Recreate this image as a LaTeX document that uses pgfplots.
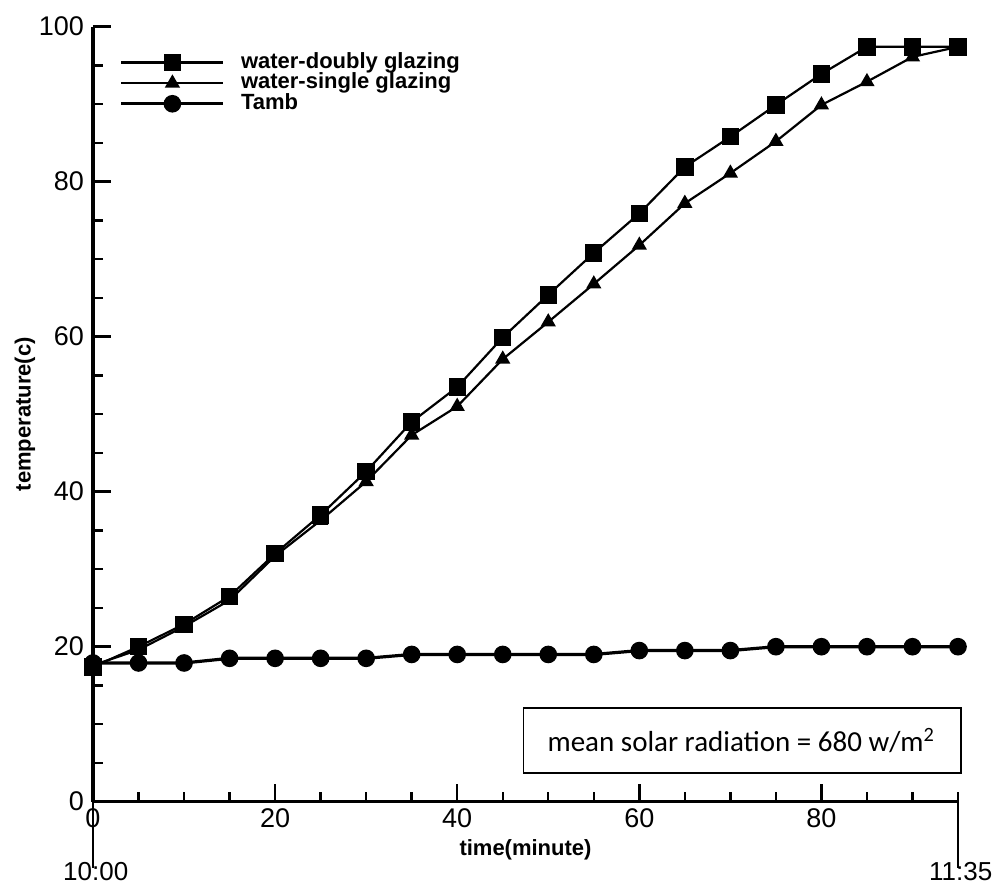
\documentclass[border=0pt]{standalone}
\usepackage{fontspec}
\setmainfont{Liberation Sans}
\newfontfamily\calibri{Carlito}
\usepackage{pgfplots}
\pgfplotsset{compat=1.18}

\pgfplotstableread{
t   doubly single tamb
0   17.4   17.6   17.9
5   20.0   19.6   17.9
10  22.9   22.6   17.9
15  26.5   26.0   18.5
20  32.0   31.7   18.5
25  37.0   36.3   18.5
30  42.6   41.3   18.5
35  49.0   47.3   19.0
40  53.5   51.0   19.0
45  59.9   57.1   19.0
50  65.4   61.9   19.0
55  70.8   66.8   19.0
60  75.9   71.8   19.5
65  81.9   77.2   19.5
70  85.8   81.1   19.5
75  89.9   85.2   20.0
80  93.9   89.9   20.0
85  97.4   92.9   20.0
90  97.4   96.1   20.0
95  97.4   97.4   20.0
}\temps

\begin{document}
\begin{tikzpicture}
\begin{axis}[
    scale only axis, width=432.5pt, height=387.5pt,
    xmin=0, xmax=95, ymin=0, ymax=100,
    axis lines=left, axis line style={-, line width=1.6pt},
    tick align=inside,
    xtick={0,20,...,100}, ytick={0,20,...,100},
    minor x tick num=3, minor y tick num=3,
    major tick length=9pt, minor tick length=5pt,
    tick style={line width=1.2pt, black},
    ticklabel style={font=\fontsize{13.5}{15}\selectfont},
    yticklabel style={xshift=-1pt},
    /pgf/number format/assume math mode=true,
    xlabel={time(minute)}, ylabel={temperature(c)},
    label style={font=\bfseries\fontsize{11}{13}\selectfont},
    x label style={at={(axis description cs:0.5,-0.062)}, anchor=center},
    y label style={at={(axis description cs:-0.0786,0.5)}, anchor=center},
    legend style={draw=none, fill=none, at={(0.031,0.967)}, anchor=north west,
      inner sep=0pt, outer sep=0pt,
      font=\bfseries\fontsize{11}{13}\selectfont,
      nodes={inner sep=0pt, text height=8pt, text depth=2.3pt},
      row sep=0pt, column sep=8pt},
    legend cell align=left,
    legend image code/.code={\draw[mark repeat=2,mark phase=2]
      plot coordinates {(0pt,0pt) (25.5pt,0pt) (51pt,0pt)};},
    clip=false,
]
\addplot[black, line width=1.1pt, mark=square*, mark size=3.8pt,
  mark options={fill=black, solid}] table[x=t, y=doubly] {\temps};
\addplot[black, line width=1.1pt, mark=triangle*, mark size=3.3pt,
  mark options={fill=black, solid}] table[x=t, y=single] {\temps};
\addplot[black, line width=1.6pt, mark=*, mark size=3.6pt,
  mark options={fill=black, solid}] table[x=t, y=tamb] {\temps};
\legend{water-doubly glazing, water-single glazing, Tamb}

\draw[line width=0.8pt] (axis cs:47.3,3.7) rectangle (axis cs:95.3,12.1);
\node[font=\calibri\fontsize{14.5}{16}\selectfont] at (axis cs:71.2,7.9)
  {mean solar radiation = 680 w/m\textsuperscript{2}};

\draw[line width=0.7pt] (axis cs:0,0) -- ++(0,-33pt);
\draw[line width=0.7pt] (axis cs:95,0) -- ++(0,-33pt);
\node[anchor=north, inner sep=0pt, font=\fontsize{13}{15}\selectfont]
  at ([yshift=-30pt]axis cs:0.3,0) {10:00};
\node[anchor=north, inner sep=0pt, font=\fontsize{13}{15}\selectfont]
  at ([yshift=-30pt]axis cs:95.3,0) {11:35};
\end{axis}
\pgfresetboundingbox
\path (-46.5pt,-45.65pt) rectangle (451pt,400.85pt);
\end{tikzpicture}
\end{document}
